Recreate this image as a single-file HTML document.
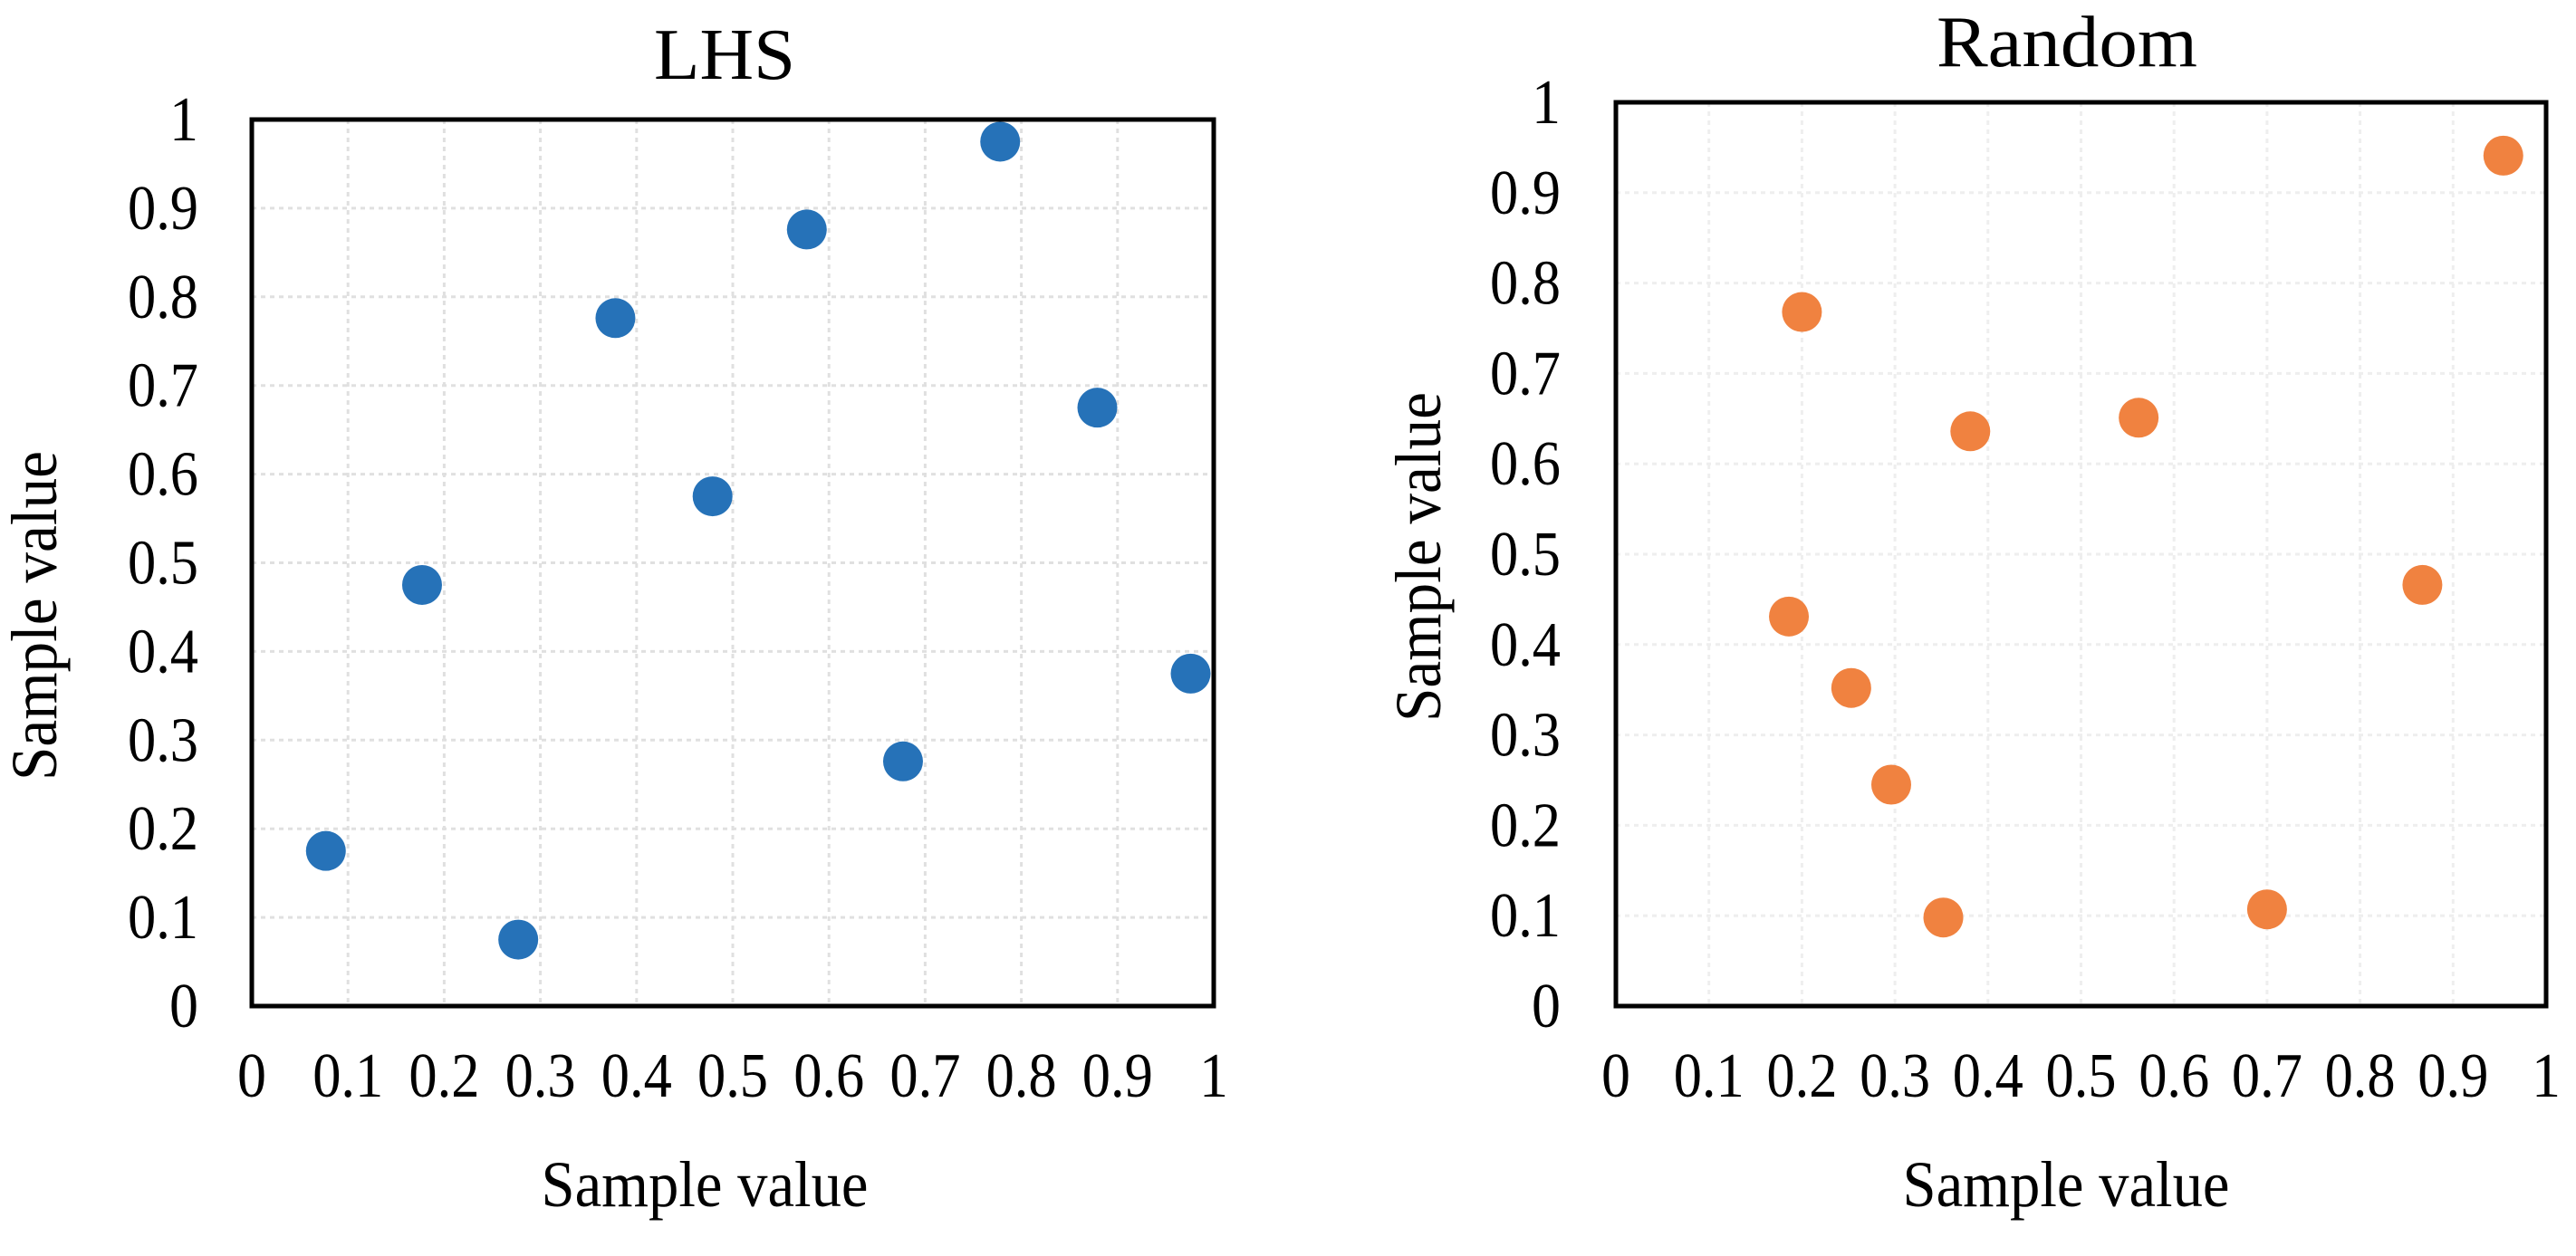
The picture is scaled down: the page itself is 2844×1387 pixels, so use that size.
<!DOCTYPE html>
<html><head><meta charset="utf-8"><style>
html,body{margin:0;padding:0;background:#fff;}
svg{display:block;}
text{font-family:"Liberation Serif",serif;fill:#000;}
</style></head><body>
<svg id="chart" width="2844" height="1387" viewBox="0 0 2844 1387" xmlns="http://www.w3.org/2000/svg"></svg>
<script>
const lhsX = [0.077, 0.177, 0.277, 0.378, 0.479, 0.577, 0.677, 0.778, 0.879, 0.976];
const lhsY = [0.175, 0.475, 0.075, 0.776, 0.575, 0.876, 0.276, 0.975, 0.675, 0.375];
const rndX = [0.200, 0.381, 0.562, 0.954, 0.186, 0.253, 0.296, 0.352, 0.700, 0.867];
const rndY = [0.768, 0.636, 0.651, 0.941, 0.431, 0.352, 0.245, 0.098, 0.107, 0.466];
const tickValues = [0,0.1,0.2,0.3,0.4,0.5,0.6,0.7,0.8,0.9,1];
const tickLabels = ["0","0.1","0.2","0.3","0.4","0.5","0.6","0.7","0.8","0.9","1"];

const svg = document.getElementById('chart');
const NS = 'http://www.w3.org/2000/svg';
function mk(tag, attrs, parent){
  const e = document.createElementNS(NS, tag);
  for (const k in attrs) e.setAttribute(k, attrs[k]);
  (parent||svg).appendChild(e);
  return e;
}
function panel(cfg){
  const g = mk('g', {});
  
  
  const sx = v => cfg.x0 + v*(cfg.x1-cfg.x0);
  const sy = v => cfg.y1 - v*(cfg.y1-cfg.y0);
  tickValues.forEach((v,i)=>{
    if (i===0 || i===tickValues.length-1) return;
    const gv = mk('line',{x1:sx(v),x2:sx(v),y1:cfg.y0,y2:cfg.y1,stroke:cfg.grid,'stroke-width':3,'stroke-dasharray':'5 5'},g);
    
    
    const gh = mk('line',{x1:cfg.x0,x2:cfg.x1,y1:sy(v),y2:sy(v),stroke:cfg.grid,'stroke-width':3,'stroke-dasharray':'5 5'},g);
    
    
  });
  tickValues.forEach((v,i)=>{
    const lab = tickLabels[i];
    const w = lab.length>1 ? 78 : 32;
    const tx = mk('text',{x:sx(v),y:1211,'font-size':70,'text-anchor':'middle',textLength:w,lengthAdjust:'spacingAndGlyphs'},g);
    tx.textContent = lab;
    
    
    const ty = mk('text',{x:cfg.ylabRight - w,y:sy(v)+23,'font-size':70,textLength:w,lengthAdjust:'spacingAndGlyphs'},g);
    ty.textContent = lab;
    
    
  });
  const fr = mk('rect',{x:cfg.x0,y:cfg.y0,width:cfg.x1-cfg.x0,height:cfg.y1-cfg.y0,fill:'none',stroke:'#000','stroke-width':5},g);
  
  
  cfg.xs.forEach((xv,i)=>{
    const c = mk('circle',{cx:sx(xv),cy:sy(cfg.ys[i]),r:22,fill:cfg.color},g);
    
    
  });
  const t = mk('text',{x:cfg.titleX,y:cfg.titleY,'font-size':80,'text-anchor':'middle',textLength:cfg.titleW,lengthAdjust:'spacingAndGlyphs'},g);
  t.textContent = cfg.title;
  
  
  const xt = mk('text',{x:cfg.xTitleX,y:1332,'font-size':72,'text-anchor':'middle',textLength:361,lengthAdjust:'spacingAndGlyphs'},g);
  xt.textContent = 'Sample value';
  
  
  const yt = mk('text',{x:0,y:0,'font-size':72,'text-anchor':'middle',textLength:364,lengthAdjust:'spacingAndGlyphs',transform:`translate(${cfg.yTitleX},${cfg.yTitleY}) rotate(-90)`},g);
  yt.textContent = 'Sample value';
  
  
}
panel({name:'lhs-panel',x0:278,x1:1340,y0:132,y1:1111,xs:lhsX,ys:lhsY,color:'#2672B8',grid:'#e0e0e0',
  ylabRight:219,title:'LHS',titleX:800,titleY:87,titleW:156,xTitleX:778,yTitleX:62,yTitleY:680});
panel({name:'random-panel',x0:1784,x1:2811,y0:113,y1:1111,xs:rndX,ys:rndY,color:'#F08240',grid:'#eeeeee',
  ylabRight:1723,title:'Random',titleX:2282,titleY:73,titleW:288,xTitleX:2281,yTitleX:1590,yTitleY:615});
</script>
</body></html>
